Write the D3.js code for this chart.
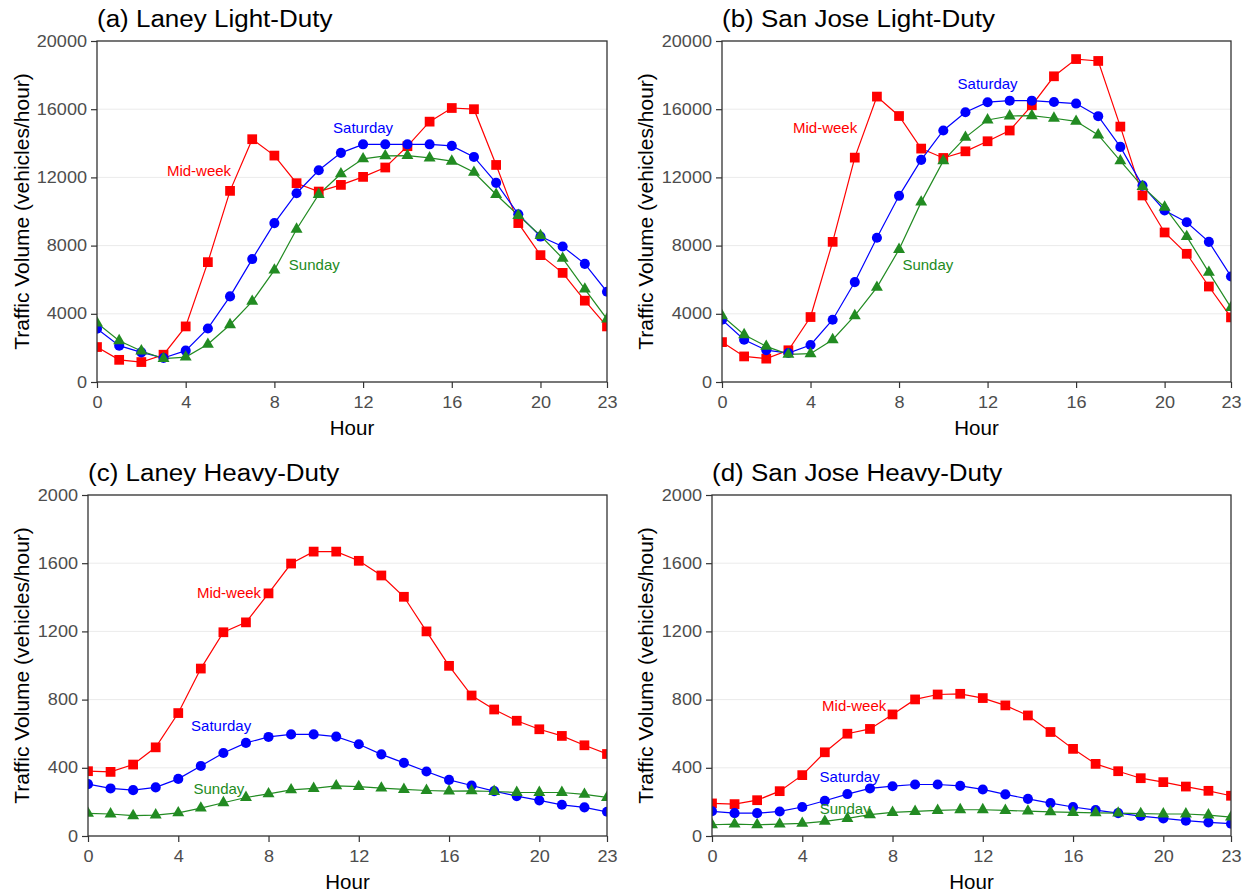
<!DOCTYPE html>
<html>
<head>
<meta charset="utf-8">
<script src="https://cdn.jsdelivr.net/npm/d3@7"></script>
<style>
  body { margin: 0; background: #fff; }
  svg text { font-family: "Liberation Sans", Arial, sans-serif; }
</style>
</head>
<body>
<svg id="chart"></svg>
<script>
// Hours of the day (x values)
const hours = [0, 1, 2, 3, 4, 5, 6, 7, 8, 9, 10, 11, 12, 13, 14, 15, 16, 17, 18, 19, 20, 21, 22, 23];
const xTicks = [0, 4, 8, 12, 16, 20, 23];
const lightTicks = [0, 4000, 8000, 12000, 16000, 20000];
const heavyTicks = [0, 400, 800, 1200, 1600, 2000];
const seriesNames = ["Mid-week", "Saturday", "Sunday"];

// (a) Laney light-duty
const laneyLightMidweek = [2050, 1300, 1170, 1600, 3260, 7030, 11210, 14240, 13280, 11660, 11170, 11560, 12030, 12580, 13830, 15270, 16070, 16000, 12730, 9320, 7440, 6400, 4770, 3260];
const laneyLightSaturday = [3120, 2130, 1740, 1410, 1840, 3140, 5020, 7210, 9320, 11070, 12420, 13440, 13940, 13940, 13940, 13940, 13850, 13200, 11680, 9840, 8530, 7950, 6930, 5290];
const laneyLightSunday = [3460, 2420, 1820, 1370, 1460, 2210, 3360, 4730, 6560, 8960, 11000, 12210, 13090, 13260, 13280, 13140, 12950, 12300, 11000, 9770, 8590, 7250, 5450, 3690];

// (b) San Jose light-duty
const sanJoseLightMidweek = [2340, 1500, 1370, 1860, 3810, 8220, 13160, 16740, 15600, 13690, 13140, 13530, 14120, 14750, 16230, 17930, 18940, 18830, 14980, 10940, 8770, 7520, 5600, 3790];
const sanJoseLightSaturday = [3650, 2480, 1870, 1700, 2170, 3650, 5860, 8460, 10920, 13030, 14750, 15820, 16410, 16500, 16500, 16420, 16330, 15590, 13790, 11520, 10060, 9370, 8220, 6190];
const sanJoseLightSunday = [3890, 2770, 2090, 1620, 1660, 2480, 3890, 5550, 7770, 10550, 12970, 14350, 15370, 15600, 15620, 15470, 15290, 14490, 12970, 11460, 10250, 8530, 6430, 4360];

// (c) Laney heavy-duty
const laneyHeavyMidweek = [380, 376, 419, 520, 721, 982, 1195, 1253, 1423, 1598, 1668, 1668, 1614, 1528, 1403, 1200, 998, 824, 742, 676, 626, 587, 532, 481];
const laneyHeavySaturday = [304, 279, 269, 285, 335, 411, 487, 546, 581, 596, 596, 583, 538, 479, 429, 378, 329, 296, 263, 234, 209, 183, 168, 142];
const laneyHeavySunday = [133, 129, 119, 123, 136, 164, 195, 226, 247, 271, 279, 294, 290, 281, 273, 267, 263, 265, 261, 255, 255, 255, 244, 226];

// (d) San Jose heavy-duty
const sanJoseHeavyMidweek = [191, 187, 210, 263, 357, 491, 600, 628, 713, 801, 830, 834, 809, 766, 707, 610, 511, 423, 380, 339, 316, 290, 265, 236];
const sanJoseHeavySaturday = [145, 134, 134, 144, 170, 207, 246, 279, 292, 302, 302, 294, 273, 244, 218, 193, 170, 152, 134, 117, 103, 90, 80, 72];
const sanJoseHeavySunday = [66, 70, 66, 70, 74, 86, 103, 125, 138, 144, 150, 154, 154, 150, 146, 142, 138, 136, 134, 131, 129, 129, 123, 111];

// Styles
const colors = { "Mid-week": "#ff0000", "Saturday": "#0000ff", "Sunday": "#228b22" };
const symbols = { "Mid-week": d3.symbolSquare, "Saturday": d3.symbolCircle, "Sunday": d3.symbolTriangle };
const symbolSizes = { "Mid-week": 95, "Saturday": 80, "Sunday": 62 };
const SX = 1.13; // labels in the reference look a bit wide

// Panels
const panels = [
  { id: "a", title: "(a) Laney Light-Duty", left: 97, right: 607, top: 41, bottom: 382, colX: 0,
    yMax: 20000, yTicks: lightTicks,
    series: [laneyLightMidweek, laneyLightSaturday, laneyLightSunday],
    labels: [[4.6, 12400], [12.0, 14900], [9.8, 6860]] },
  { id: "b", title: "(b) San Jose Light-Duty", left: 722, right: 1231, top: 41, bottom: 382, colX: 624,
    yMax: 20000, yTicks: lightTicks,
    series: [sanJoseLightMidweek, sanJoseLightSaturday, sanJoseLightSunday],
    labels: [[4.66, 14900], [12.0, 17480], [9.3, 6860]] },
  { id: "c", title: "(c) Laney Heavy-Duty", left: 88, right: 607, top: 495, bottom: 836, colX: 0,
    yMax: 2000, yTicks: heavyTicks,
    series: [laneyHeavyMidweek, laneyHeavySaturday, laneyHeavySunday],
    labels: [[6.25, 1425], [5.9, 645], [5.8, 276]] },
  { id: "d", title: "(d) San Jose Heavy-Duty", left: 712, right: 1231, top: 495, bottom: 836, colX: 624,
    yMax: 2000, yTicks: heavyTicks,
    series: [sanJoseHeavyMidweek, sanJoseHeavySaturday, sanJoseHeavySunday],
    labels: [[6.3, 762], [6.1, 346], [5.9, 158]] },
];

let width = 1255;
let height = 894;
let svg = d3.select("#chart").attr("width", width).attr("height", height);

panels.forEach((p) => {
  let x = d3.scaleLinear().domain([0, 23]).range([p.left, p.right]);
  let y = d3.scaleLinear().domain([0, p.yMax]).range([p.bottom, p.top]);

  // Clip for the plot area
  svg.append("clipPath")
    .attr("id", "clip-" + p.id)
    .append("rect")
    .attr("x", p.left)
    .attr("y", p.top)
    .attr("width", p.right - p.left)
    .attr("height", p.bottom - p.top);

  // Grid lines
  svg.append("g")
    .selectAll("line")
    .data(p.yTicks)
    .enter()
    .append("line")
    .attr("x1", p.left)
    .attr("x2", p.right)
    .attr("y1", (d) => y(d))
    .attr("y2", (d) => y(d))
    .attr("stroke", "#ebebeb")
    .attr("stroke-width", 1);

  // Lines and points
  let plot = svg.append("g").attr("clip-path", "url(#clip-" + p.id + ")");
  let line = d3.line()
    .x((d, i) => x(hours[i]))
    .y((d) => y(d));

  p.series.forEach((values, k) => {
    plot.append("path")
      .datum(values)
      .attr("d", line)
      .attr("fill", "none")
      .attr("stroke", colors[seriesNames[k]])
      .attr("stroke-width", 1.2);
  });
  p.series.forEach((values, k) => {
    let name = seriesNames[k];
    plot.append("g")
      .selectAll("path")
      .data(values)
      .enter()
      .append("path")
      .attr("d", d3.symbol().type(symbols[name]).size(symbolSizes[name]))
      .attr("transform", (d, i) => "translate(" + x(hours[i]) + "," + y(d) + ")")
      .attr("fill", colors[name]);
  });

  // Series labels
  svg.append("g")
    .selectAll("text")
    .data(p.labels)
    .enter()
    .append("text")
    .attr("x", (d) => x(d[0]))
    .attr("y", (d) => y(d[1]))
    .attr("dy", "0.35em")
    .attr("text-anchor", "middle")
    .attr("font-size", 15)
    .attr("fill", (d, i) => colors[seriesNames[i]])
    .text((d, i) => seriesNames[i]);

  // Panel border
  svg.append("rect")
    .attr("x", p.left)
    .attr("y", p.top)
    .attr("width", p.right - p.left)
    .attr("height", p.bottom - p.top)
    .attr("fill", "none")
    .attr("stroke", "#333333")
    .attr("stroke-width", 1.3);

  // Axes
  let yAxis = svg.append("g")
    .attr("transform", "translate(" + p.left + ",0)")
    .call(d3.axisLeft(y).tickValues(p.yTicks).tickSize(6).tickPadding(4).tickFormat(d3.format("d")));
  yAxis.select(".domain").remove();
  yAxis.selectAll(".tick line").attr("stroke", "#333333").attr("stroke-width", 1.2);
  yAxis.selectAll(".tick text")
    .attr("font-size", 16)
    .attr("fill", "#4d4d4d")
    .attr("x", -10 / SX)
    .attr("transform", "scale(" + SX + ",1)");
  yAxis.attr("font-family", null).attr("font-size", null);

  let xAxis = svg.append("g")
    .attr("transform", "translate(0," + p.bottom + ")")
    .call(d3.axisBottom(x).tickValues(xTicks).tickSize(6).tickPadding(9).tickFormat(d3.format("d")));
  xAxis.select(".domain").remove();
  xAxis.selectAll(".tick line").attr("stroke", "#333333").attr("stroke-width", 1.2);
  xAxis.selectAll(".tick text")
    .attr("font-size", 16)
    .attr("fill", "#4d4d4d")
    .attr("transform", "scale(" + SX + ",1)");
  xAxis.attr("font-family", null).attr("font-size", null);

  // Axis titles
  svg.append("text")
    .attr("x", (p.left + p.right) / 2)
    .attr("y", p.bottom + 53)
    .attr("text-anchor", "middle")
    .attr("font-size", 20.5)
    .attr("fill", "#000")
    .text("Hour");

  svg.append("text")
    .attr("transform", "translate(" + (p.colX + 29) + "," + (p.top + p.bottom) / 2 + ") rotate(-90)")
    .attr("text-anchor", "middle")
    .attr("font-size", 21)
    .attr("fill", "#000")
    .text("Traffic Volume (vehicles/hour)");

  // Panel title
  svg.append("text")
    .attr("transform", "translate(" + p.left + "," + (p.top - 14) + ") scale(" + SX + ",1)")
    .attr("font-size", 23)
    .attr("fill", "#000")
    .text(p.title);
});
</script>
</body>
</html>
